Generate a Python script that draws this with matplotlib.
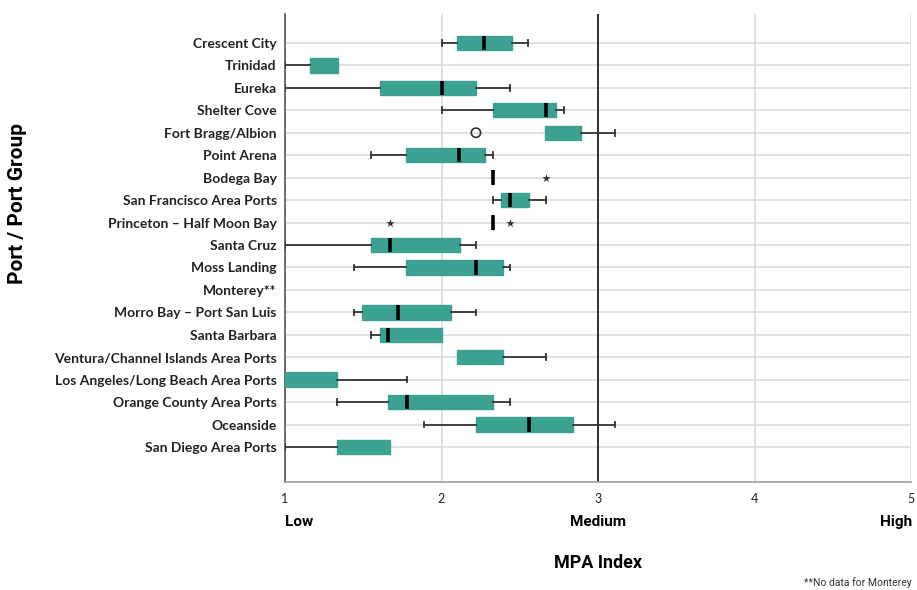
import numpy as np
import matplotlib
matplotlib.use("Agg")
import matplotlib.pyplot as plt

plt.rcParams["font.family"] = "Lato"

ports = ["Crescent City", "Trinidad", "Eureka", "Shelter Cove", "Fort Bragg/Albion",
         "Point Arena", "Bodega Bay", "San Francisco Area Ports", "Princeton \u2013 Half Moon Bay",
         "Santa Cruz", "Moss Landing", "Monterey**", "Morro Bay \u2013 Port San Luis",
         "Santa Barbara", "Ventura/Channel Islands Area Ports", "Los Angeles/Long Beach Area Ports",
         "Orange County Area Ports", "Oceanside", "San Diego Area Ports"]

# box stats (None = not drawn / no data)
whislo = [2.00, 1.00, 1.00, 2.00, None, 1.55, None, 2.33, None, 1.00,
          1.44, None, 1.44, 1.55, None, None, 1.33, 1.89, 1.00]
q1 = [2.10, 1.16, 1.61, 2.33, 2.66, 1.77, 2.33, 2.38, 2.33, 1.55,
      1.77, None, 1.49, 1.61, 2.10, 1.00, 1.66, 2.22, 1.33]
med = [2.27, None, 2.00, 2.67, None, 2.11, 2.33, 2.44, 2.33, 1.67,
       2.22, None, 1.72, 1.66, None, None, 1.78, 2.56, None]
q3 = [2.45, 1.34, 2.22, 2.73, 2.89, 2.28, 2.33, 2.56, 2.33, 2.12,
      2.39, None, 2.06, 2.00, 2.39, 1.33, 2.33, 2.84, 1.67]
whishi = [2.55, None, 2.44, 2.78, 3.11, 2.33, None, 2.67, None, 2.22,
          2.44, None, 2.22, None, 2.67, 1.78, 2.44, 3.11, None]

# outliers: circles (mild) and stars (extreme)
out_port = ["Fort Bragg/Albion"]
out_val = [2.22]
ext_port = ["Bodega Bay", "Princeton \u2013 Half Moon Bay", "Princeton \u2013 Half Moon Bay"]
ext_val = [2.67, 1.67, 2.44]

teal = "#3ca191"
nan = np.nan

fig, ax = plt.subplots(figsize=(9.17, 5.9), dpi=100)
fig.subplots_adjust(left=0.3108, right=0.9935, top=0.9763, bottom=0.183)

stats, pos = [], []
for i, p in enumerate(ports):
    if q1[i] is None:
        continue
    stats.append({
        "whislo": nan if whislo[i] is None else whislo[i],
        "q1": q1[i],
        "med": nan if med[i] is None else med[i],
        "q3": q3[i],
        "whishi": nan if whishi[i] is None else whishi[i],
        "fliers": [],
    })
    pos.append(i)

ax.bxp(stats, positions=pos, orientation="horizontal", widths=0.64, capwidths=0.25,
       patch_artist=True, showfliers=False,
       boxprops=dict(facecolor=teal, edgecolor=teal, linewidth=1),
       medianprops=dict(color="black", linewidth=2.6, solid_capstyle="butt"),
       whiskerprops=dict(color="#333333", linewidth=1.3),
       capprops=dict(color="#333333", linewidth=1.3),
       zorder=3)

ax.scatter(out_val, [ports.index(p) for p in out_port], marker="o", s=45,
           facecolor="none", edgecolor="#333333", linewidth=1.2, zorder=4)
ax.scatter(ext_val, [ports.index(p) for p in ext_port], marker="*", s=40,
           color="#333333", linewidth=0, zorder=4)

ax.set_xlim(1, 5)
ax.set_ylim(19.56, -1.29)
ax.set_yticks(range(len(ports)))
ax.set_yticklabels(ports, fontsize=10, fontweight="bold", color="#222222")
ax.set_xticks([1, 2, 3, 4, 5])
ax.set_xticklabels(["1", "2", "3", "4", "5"], fontsize=9, color="#222222")
ax.tick_params(length=0, pad=6)
ax.tick_params(axis="x", pad=8)

ax.grid(True, color="#d9dddd", linewidth=1.2, zorder=0)
ax.set_axisbelow(True)
ax.axvline(3, color="#222222", linewidth=1.3, zorder=2)

for s in ["top", "right"]:
    ax.spines[s].set_visible(False)
ax.spines["left"].set_color("#555555")
ax.spines["bottom"].set_color("#9aa0a0")
ax.spines["left"].set_linewidth(1.2)
ax.spines["bottom"].set_linewidth(1.2)

fig.text(18 / 917, 1 - 203 / 590, "Port / Port Group", rotation=90, ha="center", va="center",
         fontsize=15, fontweight="bold", family="Roboto")

fig.text(285 / 917, 1 - 522 / 590, "Low", ha="left", va="center",
         fontsize=11, fontweight="bold", family="Roboto")
fig.text(598 / 917, 1 - 522 / 590, "Medium", ha="center", va="center",
         fontsize=11, fontweight="bold", family="Roboto")
fig.text(912 / 917, 1 - 522 / 590, "High", ha="right", va="center",
         fontsize=11, fontweight="bold", family="Roboto")
fig.text(598 / 917, 1 - 563 / 590, "MPA Index", ha="center", va="center",
         fontsize=13, fontweight="bold", family="Roboto")
fig.text(912 / 917, 1 - 583 / 590, "**No data for Monterey", ha="right", va="center",
         fontsize=7.5, family="Roboto", color="#333333")

fig.savefig("out.png", dpi=100)
